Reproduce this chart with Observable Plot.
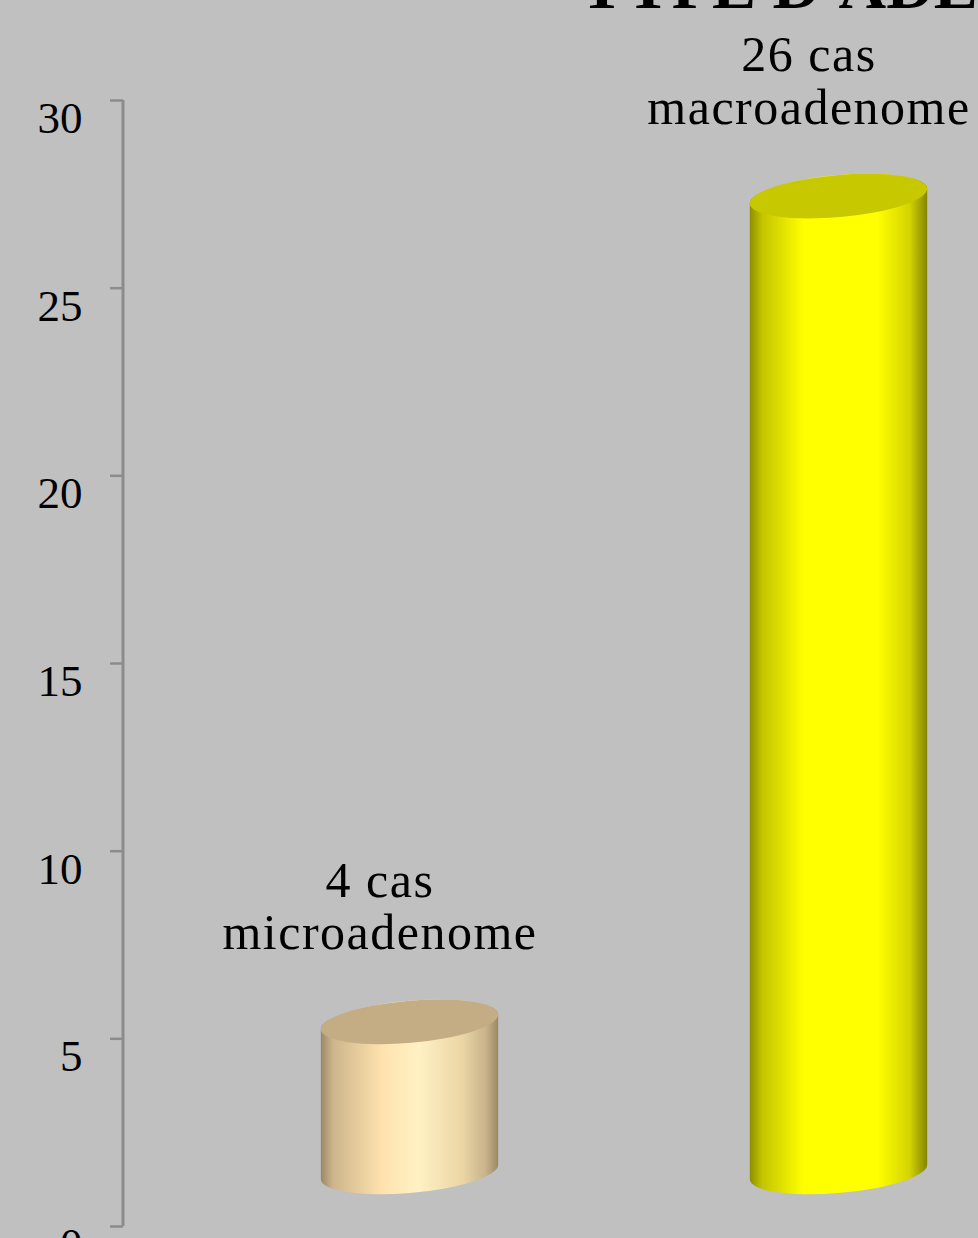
<!DOCTYPE html>
<html>
<head>
<meta charset="utf-8">
<script src="https://cdn.jsdelivr.net/npm/d3@7"></script>
<script src="https://cdn.jsdelivr.net/npm/@observablehq/plot@0.6"></script>
<style>
  html, body { margin: 0; padding: 0; background: #c0c0c0; overflow: hidden; }
  #wrap { position: relative; width: 978px; height: 1238px; overflow: hidden; }
  #title { position: absolute; left: 580px; top: -47px; font: bold 66px "Liberation Serif", serif; line-height: 66px; white-space: nowrap; color: #000; }
  #chart { position: absolute; left: 0; top: 0; }
</style>
</head>
<body>
<div id="wrap">
  <div id="chart"></div>
  <div id="title">TYPE D'ADÉNOME</div>
</div>
<script>
// ---- data ----
const categories = ["microadenome", "macroadenome"];
const counts = [4, 26];
const countLabels = ["4 cas", "26 cas"];
const yTicks = [0, 5, 10, 15, 20, 25, 30];

// ---- styles ----
const bodyStops = [
  [[0, "#9a8865"], [0.07, "#cdb68c"], [0.35, "#ffe2ae"], [0.55, "#fff1c3"], [0.8, "#ead5a5"], [0.93, "#c8b38b"], [1, "#9a8865"]],
  [[0, "#8e8e00"], [0.07, "#c4c400"], [0.3, "#ffff00"], [0.72, "#ffff00"], [0.9, "#d4d400"], [1, "#858500"]]
];
const topFills = ["#c4ad84", "#c8c800"];

const data = categories.map((c, i) => ({ type: c, n: counts[i], label: countLabels[i] + "\n" + c }));

const plot = Plot.plot({
  width: 978,
  height: 1238,
  marginLeft: 123,
  marginRight: 0,
  marginTop: 100,
  marginBottom: 12,
  style: { background: "#c0c0c0", fontFamily: "'Liberation Serif', serif", fontSize: "45px", color: "#000", overflow: "visible" },
  x: { type: "band", domain: categories, range: [195, 1053], padding: 0, axis: null },
  y: { domain: [0, 30], ticks: yTicks, tickSize: 13, tickPadding: 28, label: null, tickFormat: d => String(d) },
  marks: [
    Plot.text(data, {
      x: "type", y: "n", text: "label",
      dx: -30, dy: -127, lineAnchor: "bottom", lineHeight: 1.05,
      fontSize: 50, fill: "#000", fontFamily: "'Liberation Serif', serif"
    })
  ]
});
document.getElementById("chart").appendChild(plot);

const svg = d3.select(plot);
// style axis ticks
svg.selectAll("[aria-label^='y-axis'] line, [aria-label^='y-axis'] path").attr("stroke", "#8c8c8c").attr("stroke-width", 2.5);
svg.selectAll("[aria-label^='y-axis'] text").attr("dy", "0.4em");
// label letter spacing
svg.selectAll("[aria-label='text'] text").attr("letter-spacing", "1.5px");

const xs = plot.scale("x");
const ys = plot.scale("y");
const x0 = 123;
// axis line
svg.append("line")
  .attr("x1", x0).attr("x2", x0)
  .attr("y1", ys.apply(30)).attr("y2", ys.apply(0))
  .attr("stroke", "#8c8c8c").attr("stroke-width", 3);

// gradients
const defs = svg.append("defs");
bodyStops.forEach((stops, i) => {
  const g = defs.append("linearGradient").attr("id", "cylGrad" + i).attr("x1", 0).attr("x2", 1).attr("y1", 0).attr("y2", 0);
  stops.forEach(([o, c]) => g.append("stop").attr("offset", o).attr("stop-color", c));
});

// cylinders
const depth = 54;
const rx = 89, ry = 21;
const phiDeg = -5, phi = phiDeg * Math.PI / 180;
const cphi = Math.cos(phi), sphi = Math.sin(phi);
const t0 = Math.atan(-ry * sphi / (rx * cphi));
function pt(cx, cy, t) {
  return [cx + rx * Math.cos(t) * cphi - ry * Math.sin(t) * sphi,
          cy + rx * Math.cos(t) * sphi + ry * Math.sin(t) * cphi];
}
const bw = xs.bandwidth || 0;
const cylG = svg.append("g").attr("aria-label", "cylinders");
data.forEach((d, i) => {
  const cx = xs.apply(d.type) + bw / 2;
  const yb = ys.apply(0) - depth;
  const yt = ys.apply(d.n) - depth;
  const Lt = pt(cx, yt, t0 + Math.PI), Rt = pt(cx, yt, t0);
  const Lb = pt(cx, yb, t0 + Math.PI), Rb = pt(cx, yb, t0);
  const path = `M${Lt}L${Lb}A${rx},${ry} ${phiDeg} 0 0 ${Rb}L${Rt}A${rx},${ry} ${phiDeg} 0 0 ${Lt}Z`;
  cylG.append("path").attr("d", path).attr("fill", `url(#cylGrad${i})`);
  cylG.append("ellipse")
    .attr("cx", cx).attr("cy", yt).attr("rx", rx).attr("ry", ry)
    .attr("transform", `rotate(${phiDeg},${cx},${yt})`)
    .attr("fill", topFills[i]);
});
</script>
</body>
</html>
